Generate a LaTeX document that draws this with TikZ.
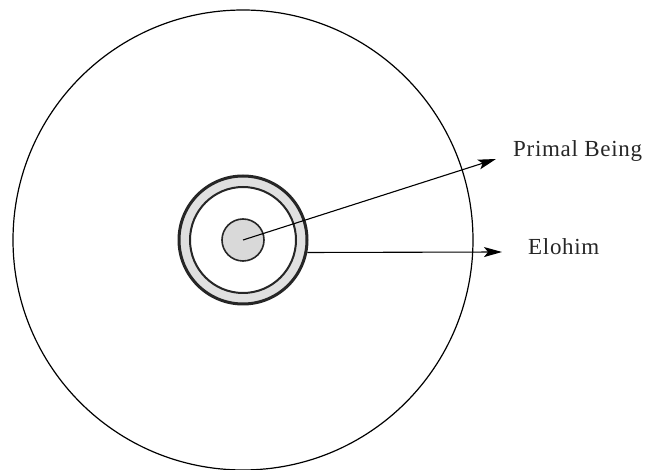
\documentclass[tikz,border=0pt]{standalone}
\usepackage{fontspec}
\setmainfont{Liberation Serif}[LetterSpace=3]
\usetikzlibrary{arrows.meta}
\begin{document}
\begin{tikzpicture}[x=1pt,y=-1pt,
  lbl/.style={font=\fontsize{23}{26}\selectfont, anchor=base west, inner sep=0pt, text=black!85},
  arr/.style={line width=1.1pt, -{Stealth[length=18pt,width=10pt,inset=4pt]}}]
\useasboundingbox (0,0) rectangle (649,470);
\node[circle, draw, line width=1.2pt, minimum size=460pt, inner sep=0pt] (outer) at (243,240) {};
\node[circle, draw=black!85, line width=3pt, fill=black!12, minimum size=128pt, inner sep=0pt] (ring) at (243,240) {};
\node[circle, draw=black!85, line width=2pt, fill=white, minimum size=106pt, inner sep=0pt] (inner) at (243,240) {};
\node[circle, draw=black!85, line width=1.6pt, fill=black!15, minimum size=42pt, inner sep=0pt] (core) at (243,240) {};
\node[lbl] (pb) at (513,157) {Primal Being};
\node[lbl] (el) at (528,255) {Elohim};
\coordinate (t1) at (496,159);
\coordinate (t2) at (502,252);
\draw[arr] (core.center) -- (t1);
\draw[arr] (ring.-11) -- (t2);
\end{tikzpicture}
\end{document}
